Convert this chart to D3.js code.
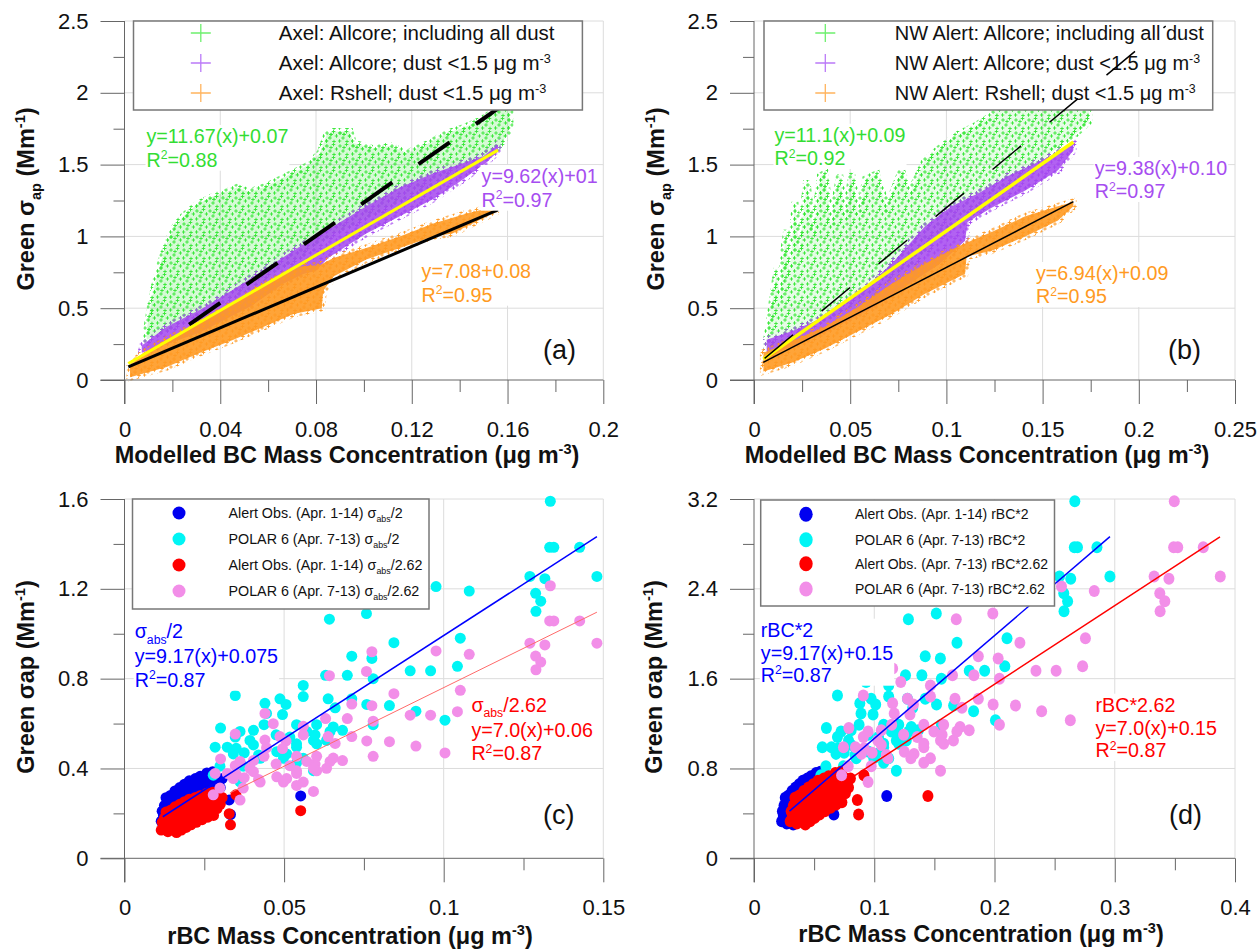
<!DOCTYPE html>
<html>
<head>
<meta charset="utf-8">
<script src="https://cdn.jsdelivr.net/npm/d3@7/dist/d3.min.js"></script>
<style>
  body { margin: 0; background: #fff; }
  svg { font-family: "Liberation Sans", Arial, sans-serif; }
</style>
</head>
<body>
<svg id="chart" width="1258" height="950"></svg>
<script>
// ---- tick values ----
const aXTicks = [0, 0.04, 0.08, 0.12, 0.16, 0.2];
const aXMinor = [0.02, 0.06, 0.1, 0.14, 0.18];
const abYTicks = [0, 0.5, 1, 1.5, 2, 2.5];
const abYMinor = [0.25, 0.75, 1.25, 1.75, 2.25];
const bXTicks = [0, 0.05, 0.1, 0.15, 0.2, 0.25];
const bXMinor = [0.025, 0.075, 0.125, 0.175, 0.225];
const cXTicks = [0, 0.05, 0.1, 0.15];
const cXMinor = [0.025, 0.075, 0.125];
const cYTicks = [0, 0.4, 0.8, 1.2, 1.6];
const cYMinor = [0.2, 0.6, 1.0, 1.4];
const dXTicks = [0, 0.1, 0.2, 0.3, 0.4];
const dXMinor = [0.05, 0.15, 0.25, 0.35];
const dYTicks = [0, 0.8, 1.6, 2.4, 3.2];
const dYMinor = [0.4, 1.2, 2.0, 2.8];

// ---- modelled clouds (outline of the dense '+' clouds, [BC, sigma_ap]) ----
const aGreenTop = [[0.0093,0.35],[0.0106,0.49],[0.0127,0.67],[0.0155,0.84],[0.0183,0.98],[0.0211,1.07],[0.0246,1.14],[0.0301,1.22],[0.0371,1.28],[0.0427,1.31],[0.0469,1.34],[0.0524,1.31],[0.0594,1.35],[0.0677,1.42],[0.0761,1.49],[0.0817,1.58],[0.0845,1.71],[0.0873,1.73],[0.0942,1.73],[0.0956,1.65],[0.104,1.61],[0.111,1.63],[0.118,1.58],[0.126,1.64],[0.135,1.72],[0.142,1.76],[0.149,1.81],[0.154,1.87],[0.161,1.97]];
const aGreenBottom = [[0.0093,0.28],[0.0316,0.46],[0.0594,0.70],[0.0873,1.02],[0.115,1.25],[0.143,1.49],[0.157,1.63],[0.161,1.75]];
const aPurpleTop = [[0.0072,0.24],[0.0176,0.37],[0.0316,0.49],[0.0455,0.63],[0.0594,0.78],[0.0733,0.93],[0.0873,1.07],[0.101,1.21],[0.115,1.34],[0.129,1.44],[0.138,1.49],[0.150,1.56],[0.156,1.64]];
const aPurpleBottom = [[0.0072,0.19],[0.0316,0.33],[0.0524,0.51],[0.0663,0.67],[0.075,0.74],[0.080,0.76],[0.085,0.85],[0.101,1.02],[0.115,1.14],[0.129,1.26],[0.140,1.38],[0.150,1.50],[0.156,1.59]];
const aOrangeTop = [[0.0023,0.10],[0.0079,0.19],[0.0176,0.28],[0.0316,0.40],[0.0455,0.53],[0.0594,0.67],[0.0733,0.79],[0.0817,0.80],[0.0873,0.85],[0.101,0.92],[0.115,1.00],[0.129,1.09],[0.143,1.16],[0.155,1.21]];
const aOrangeBottom = [[0.0023,0.02],[0.0176,0.09],[0.0316,0.19],[0.0455,0.28],[0.0594,0.38],[0.0705,0.46],[0.0824,0.50],[0.0830,0.62],[0.0873,0.72],[0.101,0.84],[0.115,0.92],[0.129,1.00],[0.137,1.02],[0.155,1.17]];

const bGreenTop = [[0.0066,0.28],[0.0095,0.55],[0.012,0.78],[0.0135,0.55],[0.0155,0.90],[0.017,1.045],[0.0185,0.72],[0.0213,1.24],[0.0235,0.90],[0.0274,1.39],[0.031,1.02],[0.0345,1.42],[0.0369,1.44],[0.040,1.08],[0.0445,1.43],[0.0475,1.12],[0.0508,1.44],[0.0545,1.14],[0.058,1.40],[0.0638,1.435],[0.069,1.20],[0.0767,1.46],[0.081,1.30],[0.0889,1.53],[0.0975,1.625],[0.106,1.71],[0.115,1.77],[0.1235,1.84],[0.13,1.95],[0.15,2.1],[0.174,2.2]];
const bGreenBottom = [[0.0066,0.22],[0.0369,0.42],[0.0629,0.58],[0.0802,0.79],[0.0975,1.02],[0.115,1.18],[0.132,1.35],[0.1495,1.53],[0.158,1.62],[0.166,1.70],[0.174,1.80]];
const bPurpleTop = [[0.0066,0.28],[0.0196,0.34],[0.0369,0.44],[0.0542,0.60],[0.0716,0.81],[0.0889,1.07],[0.1027,1.21],[0.1166,1.30],[0.132,1.42],[0.1495,1.53],[0.166,1.64]];
const bPurpleBottom = [[0.0066,0.16],[0.0369,0.33],[0.0629,0.51],[0.082,0.68],[0.0958,0.80],[0.1097,0.97],[0.111,1.10],[0.1235,1.20],[0.141,1.32],[0.158,1.46],[0.166,1.60]];
const bOrangeTop = [[0.0049,0.19],[0.0196,0.27],[0.0369,0.37],[0.0542,0.51],[0.0716,0.67],[0.0889,0.81],[0.106,0.93],[0.1235,1.03],[0.141,1.14],[0.158,1.21],[0.166,1.24]];
const bOrangeBottom = [[0.0049,0.06],[0.0196,0.12],[0.0369,0.22],[0.0542,0.34],[0.0716,0.46],[0.0889,0.60],[0.1097,0.74],[0.1105,0.86],[0.1235,0.90],[0.141,1.00],[0.158,1.11],[0.166,1.21]];

// ---- regression fits: [slope, intercept, x start, x end] ----
const aGreenFit = [11.67, 0.07, 0.027, 0.162];
const aPurpleFit = [9.62, 0.10, 0.0016, 0.156];
const aOrangeFit = [7.08, 0.08, 0.0016, 0.156];
const bGreenFit = [11.1, 0.09, 0.0055, 0.214];
const bPurpleFit = [9.38, 0.10, 0.0048, 0.166];
const bOrangeFit = [6.94, 0.09, 0.0048, 0.166];
const cBlueFit = [9.17, 0.075, 0.012, 0.148];
const cRedFit = [7.0, 0.06, 0.033, 0.148];
const dBlueFit = [9.17, 0.15, 0.0295, 0.296];
const dRedFit = [7.0, 0.15, 0.0736, 0.3875];

// ---- observations: [rBC (ug m-3), sigma_abs (Mm-1)] ----
const alertObs = [
  [0.0115,0.33],[0.0118,0.42],[0.0122,0.38],[0.0125,0.47],[0.0128,0.35],[0.0130,0.54],[0.0133,0.42],[0.0136,0.31],[0.0138,0.49],[0.0141,0.39],
  [0.0144,0.56],[0.0147,0.45],[0.0150,0.34],[0.0152,0.50],[0.0155,0.41],[0.0158,0.60],[0.0160,0.47],[0.0163,0.30],[0.0165,0.55],[0.0168,0.38],
  [0.0170,0.44],[0.0173,0.63],[0.0175,0.51],[0.0178,0.33],[0.0180,0.58],[0.0183,0.46],[0.0185,0.40],[0.0188,0.66],[0.0190,0.53],[0.0193,0.36],
  [0.0195,0.49],[0.0198,0.61],[0.0200,0.44],[0.0203,0.69],[0.0206,0.56],[0.0208,0.39],[0.0211,0.51],[0.0214,0.64],[0.0217,0.47],[0.0220,0.58],
  [0.0222,0.71],[0.0225,0.42],[0.0228,0.54],[0.0231,0.66],[0.0234,0.49],[0.0237,0.73],[0.0240,0.60],[0.0243,0.45],[0.0246,0.56],[0.0249,0.70],
  [0.0252,0.52],[0.0255,0.64],[0.0258,0.76],[0.0261,0.48],[0.0264,0.60],[0.0267,0.71],[0.0270,0.55],[0.0273,0.66],[0.0276,0.77],[0.0279,0.50],
  [0.0282,0.62],[0.0286,0.72],[0.0290,0.58],[0.0295,0.68],[0.0300,0.63],[0.0306,0.71],[0.0328,0.52],[0.0332,0.39],[0.0349,0.74],[0.0552,0.555]
];
const polarObs = [
  [0.1334,3.18],[0.1332,2.77],[0.1345,2.77],[0.1426,2.77],[0.1270,2.51],[0.1480,2.51],[0.1317,2.49],[0.1288,2.36],[0.1304,2.29],[0.1289,2.20],
  [0.0976,2.42],[0.1080,2.38],[0.1052,1.96],[0.1043,1.71],[0.1004,1.23],[0.0959,1.67],[0.0895,1.67],[0.0844,1.92],
  [0.0642,2.13],[0.0758,2.18],[0.0712,1.80],[0.0775,1.78],[0.0630,1.63],[0.0698,1.63],[0.0779,1.60],[0.0560,1.54],[0.0347,1.45],[0.0712,1.42],
  [0.0487,1.42],[0.0440,1.38],[0.0506,1.37],[0.0830,1.36],[0.0759,1.37],[0.0913,1.31],[0.0779,1.19],[0.0660,1.34],[0.0445,1.29],[0.0495,1.28],
  [0.0437,1.19],[0.0539,1.19],[0.0571,1.13],[0.0597,1.10],[0.0654,1.17],[0.0683,1.14],[0.0633,1.05],[0.0301,1.16],[0.0393,1.05],[0.0322,0.99],
  [0.0284,0.99],[0.0350,0.98],[0.0375,0.94],[0.0475,1.10],[0.0518,1.08],[0.0420,0.92],[0.0404,1.14],[0.0347,1.08],[0.0508,0.93],[0.0560,0.89],
  [0.0539,1.02],[0.0602,1.02],[0.0775,2.41],[0.0466,1.57],[0.0560,1.44],[0.0638,1.42],[0.0602,1.19],[0.0644,1.13],[0.0362,1.13],[0.0404,1.01],
  [0.0477,0.95],[0.0539,0.99],[0.0592,1.05],[0.0498,0.89],[0.0425,0.89],[0.0372,0.82],[0.0592,0.78],[0.0539,0.85],[0.0362,0.68],[0.0299,0.82],
  [0.0278,0.74],[0.0341,0.93],[0.0440,1.69]
];
const scaleFactors = [2, 2.62];

// ---- colours ----
const GREEN = '#33e633', PURPLE = '#a447f0', ORANGE = '#ff9a22';
const BLUE = '#0000f0', CYAN = '#00f5f5', RED = '#ff0000', PINK = '#f28ee8';

const svg = d3.select('#chart');
const defs = svg.append('defs');

// irregular tile of small '+' marks, used to texture the dense clouds
const spots = [[2, 3], [8.5, 1.5], [5, 8], [11.5, 6], [1.5, 11], [9, 11.5], [6, 4.5]];
const crossPath = spots.map(([cx, cy]) => `M${cx - 1.8},${cy}H${cx + 1.8}M${cx},${cy - 1.8}V${cy + 1.8}`).join('');
[['green', GREEN], ['purple', PURPLE], ['orange', ORANGE]].forEach(([k, c]) => {
  defs.append('pattern').attr('id', 'pat-' + k)
    .attr('width', 13).attr('height', 13).attr('patternUnits', 'userSpaceOnUse')
    .append('path').attr('d', crossPath)
    .attr('stroke', c).attr('stroke-width', 0.9);
});

// text with sub/superscripts; segs: 'text' or ['text','sub'|'sup']
function rich(t, segs, size) {
  let off = 0;
  segs.forEach(s => {
    const [txt, m] = Array.isArray(s) ? s : [s, ''];
    const target = m === 'sub' ? size * 0.28 : m === 'sup' ? -size * 0.38 : 0;
    t.append('tspan').attr('dy', target - off).attr('font-size', m ? size * 0.62 : size).text(txt);
    off = target;
  });
  return t;
}

function makePanel(p) {
  const x = d3.scaleLinear().domain(p.xd).range([p.left, p.right]);
  const y = d3.scaleLinear().domain(p.yd).range([p.bottom, p.top]);
  const g = svg.append('g');
  g.append('g').selectAll('line').data(p.xt.slice(1)).join('line')
    .attr('x1', d => x(d)).attr('x2', d => x(d)).attr('y1', p.top).attr('y2', p.bottom)
    .attr('stroke', '#dcdcdc');
  g.append('g').selectAll('line').data(p.yt.slice(1)).join('line')
    .attr('y1', d => y(d)).attr('y2', d => y(d)).attr('x1', p.left).attr('x2', p.right)
    .attr('stroke', '#dcdcdc');
  return { g, x, y, p };
}

function drawAxes(P) {
  const { g, x, y, p } = P;
  const fmt = d3.format('~g');
  const style = sel => {
    sel.select('.domain').remove();
    sel.attr('font-family', null).attr('font-size', 22);
    sel.selectAll('.tick line').attr('stroke', '#666');
    sel.selectAll('.tick text').attr('fill', '#111');
  };
  g.append('g').attr('transform', `translate(0,${p.bottom})`)
    .call(d3.axisBottom(x).tickValues(p.xt).tickSize(24).tickPadding(17).tickFormat(fmt)).call(style);
  g.append('g').attr('transform', `translate(0,${p.bottom})`)
    .call(d3.axisBottom(x).tickValues(p.xm).tickSize(12).tickFormat('')).call(style);
  g.append('g').attr('transform', `translate(${p.left},0)`)
    .call(d3.axisLeft(y).tickValues(p.yt).tickSize(24).tickPadding(12).tickFormat(fmt)).call(style);
  g.append('g').attr('transform', `translate(${p.left},0)`)
    .call(d3.axisLeft(y).tickValues(p.ym).tickSize(11).tickFormat('')).call(style);
  g.append('line').attr('x1', p.left).attr('x2', p.left).attr('y1', p.top).attr('y2', p.bottom + 24).attr('stroke', '#666');
  g.append('line').attr('x1', p.left - 24).attr('x2', p.right).attr('y1', p.bottom).attr('y2', p.bottom).attr('stroke', '#666');

  rich(g.append('text').attr('x', p.xTitle[0]).attr('y', p.xTitle[1])
    .attr('text-anchor', 'middle').attr('font-weight', 'bold').attr('fill', '#111'), p.xLabel, 23.5);
  rich(g.append('text').attr('transform', `translate(${p.yTitle[0]},${p.yTitle[1]}) rotate(-90)`)
    .attr('text-anchor', 'middle').attr('font-weight', 'bold').attr('fill', '#111'), p.yLabel, 23.5);
  g.append('text').attr('x', p.tag[0]).attr('y', p.tag[1]).attr('font-size', 27).attr('fill', '#111').text(p.tagText);
}

function drawCloud(P, top, bottom, color, key, opacity) {
  const { g, x, y } = P;
  const pts = top.concat(bottom.slice().reverse());
  const d = d3.line().x(v => x(v[0])).y(v => y(v[1]))(pts) + 'Z';
  g.append('path').attr('d', d).attr('fill', color).attr('fill-opacity', opacity);
  g.append('path').attr('d', d).attr('fill', `url(#pat-${key})`)
    .attr('stroke', `url(#pat-${key})`).attr('stroke-width', 7);
}

function fitLine(P, fit, color, width, dash) {
  const { g, x, y } = P;
  const pts = [fit[2], fit[3]].map(v => [v, fit[0] * v + fit[1]]);
  g.append('path').attr('d', d3.line().x(v => x(v[0])).y(v => y(v[1]))(pts))
    .attr('stroke', color).attr('stroke-width', width).attr('fill', 'none')
    .attr('stroke-dasharray', dash || null);
}

function drawDots(P, data, color, rx, ry) {
  P.g.append('g').selectAll('ellipse').data(data).join('ellipse')
    .attr('cx', d => P.x(d[0])).attr('cy', d => P.y(d[1]))
    .attr('rx', rx).attr('ry', ry).attr('fill', color);
}

function annotate(P, x0, baselines, lines, color) {
  const grp = P.g.append('g');
  const bg = grp.append('rect').attr('fill', '#fff');
  lines.forEach((segs, i) => {
    rich(grp.append('text').attr('x', x0).attr('y', baselines[i]).attr('fill', color), segs, 19.7);
  });
  const texts = grp.selectAll('text').nodes().map(n => n.getBBox());
  const x1 = d3.min(texts, b => b.x), y1 = d3.min(texts, b => b.y);
  const x2 = d3.max(texts, b => b.x + b.width), y2 = d3.max(texts, b => b.y + b.height);
  bg.attr('x', x1 - 1).attr('y', y1).attr('width', x2 - x1 + 2).attr('height', y2 - y1);
}

function legendBox(P, box, rows, labels, marker, textX, size) {
  const g = P.g.append('g');
  g.append('rect').attr('x', box[0]).attr('y', box[1]).attr('width', box[2] - box[0]).attr('height', box[3] - box[1])
    .attr('fill', '#fff').attr('stroke', '#777').attr('stroke-width', 1.5);
  rows.forEach((ry, i) => {
    marker(g, ry, i);
    rich(g.append('text').attr('x', textX).attr('y', ry + size * 0.36).attr('fill', '#111'), labels[i], size);
  });
  return g;
}

const mu = 'μg m';
const yLabelAB = ['Green σ', ['ap', 'sub'], ' (Mm', ['-1', 'sup'], ')'];
const yLabelCD = ['Green σap (Mm', ['-1', 'sup'], ')'];

// ================= panel (a) =================
const A = makePanel({ left: 124.5, right: 603.3, top: 21, bottom: 380, xd: [0, 0.2], yd: [0, 2.5],
  xt: aXTicks, xm: aXMinor, yt: abYTicks, ym: abYMinor });
drawCloud(A, aGreenTop, aGreenBottom, GREEN, 'green', 0.2);
drawCloud(A, aPurpleTop, aPurpleBottom, PURPLE, 'purple', 0.85);
drawCloud(A, aOrangeTop, aOrangeBottom, ORANGE, 'orange', 0.9);
fitLine(A, aGreenFit, '#000', 4, '38,32');
fitLine(A, aPurpleFit, '#ffff00', 3);
fitLine(A, aOrangeFit, '#000', 3);
const crossMarker = (cx, cols) => (g, ry, i) => g.append('path')
  .attr('d', `M${cx - 10},${ry}H${cx + 10}M${cx},${ry - 9}V${ry + 9}`)
  .attr('stroke', cols[i]).attr('stroke-width', 1.3);
const lightCross = ['#6ef06e', '#bb7af8', '#ffb45e'];
legendBox(A, [133.5, 21, 582.4, 110], [33, 63, 93],
  [['Axel: Allcore; including all dust'], ['Axel: Allcore; dust <1.5 ' + mu, ['-3', 'sup']], ['Axel: Rshell; dust <1.5 ' + mu, ['-3', 'sup']]],
  crossMarker(200.8, lightCross), 278.8, 20.5);
annotate(A, 146.5, [143, 166.7], [['y=11.67(x)+0.07'], ['R', ['2', 'sup'], '=0.88']], '#33dd33');
annotate(A, 481.6, [183, 206.7], [['y=9.62(x)+01'], ['R', ['2', 'sup'], '=0.97']], '#a64df0');
annotate(A, 421.6, [278.3, 301.7], [['y=7.08+0.08'], ['R', ['2', 'sup'], '=0.95']], '#ff9a22');
drawAxes(Object.assign(A, { p: Object.assign(A.p, {
  xTitle: [347, 463], yTitle: [34, 199], tag: [543, 359], tagText: '(a)',
  xLabel: ['Modelled BC Mass Concentration (' + mu, ['-3', 'sup'], ')'], yLabel: yLabelAB }) }));

// ================= panel (b) =================
const B = makePanel({ left: 754, right: 1235, top: 21, bottom: 380, xd: [0, 0.25], yd: [0, 2.5],
  xt: bXTicks, xm: bXMinor, yt: abYTicks, ym: abYMinor });
drawCloud(B, bGreenTop, bGreenBottom, GREEN, 'green', 0.12);
drawCloud(B, bPurpleTop, bPurpleBottom, PURPLE, 'purple', 0.85);
drawCloud(B, bOrangeTop, bOrangeBottom, ORANGE, 'orange', 0.9);
fitLine(B, bPurpleFit, '#ffff00', 3.5);
fitLine(B, bOrangeFit, '#000', 1.5);
legendBox(B, [764, 21, 1212.7, 110], [33, 63, 93],
  [['NW Alert: Allcore; including all dust'], ['NW Alert: Allcore; dust <1.5 ' + mu, ['-3', 'sup']], ['NW Alert: Rshell; dust <1.5 ' + mu, ['-3', 'sup']]],
  crossMarker(825.3, lightCross), 894.7, 20);
fitLine(B, bGreenFit, '#000', 1.5, '37,37');
annotate(B, 774.5, [141.7, 165], [['y=11.1(x)+0.09'], ['R', ['2', 'sup'], '=0.92']], '#33dd33');
annotate(B, 1094.7, [175, 198], [['y=9.38(x)+0.10'], ['R', ['2', 'sup'], '=0.97']], '#a64df0');
annotate(B, 1036, [280, 303], [['y=6.94(x)+0.09'], ['R', ['2', 'sup'], '=0.95']], '#ff9a22');
drawAxes(Object.assign(B, { p: Object.assign(B.p, {
  xTitle: [977, 463], yTitle: [664, 199], tag: [1168, 359], tagText: '(b)',
  xLabel: ['Modelled BC Mass Concentration (' + mu, ['-3', 'sup'], ')'], yLabel: yLabelAB }) }));

// ================= panel (c) =================
const C = makePanel({ left: 124.5, right: 603.3, top: 499, bottom: 858.3, xd: [0, 0.15], yd: [0, 1.6],
  xt: cXTicks, xm: cXMinor, yt: cYTicks, ym: cYMinor });
const [k1, k2] = scaleFactors;
drawDots(C, alertObs.map(d => [d[0], d[1] / k1]), BLUE, 5.5, 5.5);
drawDots(C, polarObs.map(d => [d[0], d[1] / k1]), CYAN, 5.5, 5.5);
drawDots(C, alertObs.map(d => [d[0], d[1] / k2]), RED, 5.5, 5.5);
drawDots(C, polarObs.map(d => [d[0], d[1] / k2]), PINK, 5.5, 5.5);
fitLine(C, cBlueFit, '#0000ff', 1.5);
fitLine(C, cRedFit, '#ff6a6a', 1);
const dotMarker = (cx, rx, ry) => (g, yy, i) => g.append('ellipse')
  .attr('cx', cx).attr('cy', yy).attr('rx', rx).attr('ry', ry).attr('fill', [BLUE, CYAN, RED, PINK][i]);
legendBox(C, [132.5, 499, 429, 609], [513, 539, 565, 591],
  [['Alert Obs. (Apr. 1-14) σ', ['abs', 'sub'], '/2'], ['POLAR 6 (Apr. 7-13) σ', ['abs', 'sub'], '/2'],
   ['Alert Obs. (Apr. 1-14) σ', ['abs', 'sub'], '/2.62'], ['POLAR 6 (Apr. 7-13) σ', ['abs', 'sub'], '/2.62']],
  dotMarker(179, 6.5, 6.5), 228.5, 14.3);
annotate(C, 134.7, [638.3, 663.3, 686.7], [['σ', ['abs', 'sub'], '/2'], ['y=9.17(x)+0.075'], ['R', ['2', 'sup'], '=0.87']], '#0000ff');
annotate(C, 471.4, [711.7, 736.7, 760], [['σ', ['abs', 'sub'], '/2.62'], ['y=7.0(x)+0.06'], ['R', ['2', 'sup'], '=0.87']], '#ff0000');
drawAxes(Object.assign(C, { p: Object.assign(C.p, {
  xTitle: [350, 944], yTitle: [34, 677], tag: [543, 824], tagText: '(c)',
  xLabel: ['rBC Mass Concentration (' + mu, ['-3', 'sup'], ')'], yLabel: yLabelCD }) }));

// ================= panel (d) =================
const D = makePanel({ left: 754, right: 1235, top: 499, bottom: 858.3, xd: [0, 0.4], yd: [0, 3.2],
  xt: dXTicks, xm: dXMinor, yt: dYTicks, ym: dYMinor });
drawDots(D, alertObs.map(d => [d[0] * k1, d[1]]), BLUE, 5.5, 6);
drawDots(D, polarObs.map(d => [d[0] * k1, d[1]]), CYAN, 5.5, 6);
drawDots(D, alertObs.map(d => [d[0] * k2, d[1]]), RED, 5.5, 6);
drawDots(D, polarObs.map(d => [d[0] * k2, d[1]]), PINK, 5.5, 6);
fitLine(D, dBlueFit, '#0000ff', 1.5);
fitLine(D, dRedFit, '#ff0000', 1.5);
legendBox(D, [760.7, 500, 1054.5, 606], [514.3, 539.7, 563.7, 589],
  [['Alert Obs. (Apr. 1-14) rBC*2'], ['POLAR 6 (Apr. 7-13) rBC*2'], ['Alert Obs. (Apr. 7-13) rBC*2.62'], ['POLAR 6 (Apr. 7-13) rBC*2.62']],
  dotMarker(806, 6.7, 7.5), 855, 14);
annotate(D, 760.8, [636.7, 660, 681.7], [['rBC*2'], ['y=9.17(x)+0.15'], ['R', ['2', 'sup'], '=0.87']], '#0000ff');
annotate(D, 1095.5, [711.7, 735, 757], [['rBC*2.62'], ['y=7.0(x)+0.15'], ['R', ['2', 'sup'], '=0.87']], '#ff0000');
drawAxes(Object.assign(D, { p: Object.assign(D.p, {
  xTitle: [981, 942], yTitle: [662, 677], tag: [1169, 824], tagText: '(d)',
  xLabel: ['rBC Mass Concentration (' + mu, ['-3', 'sup'], ')'], yLabel: yLabelCD }) }));
</script>
</body>
</html>
